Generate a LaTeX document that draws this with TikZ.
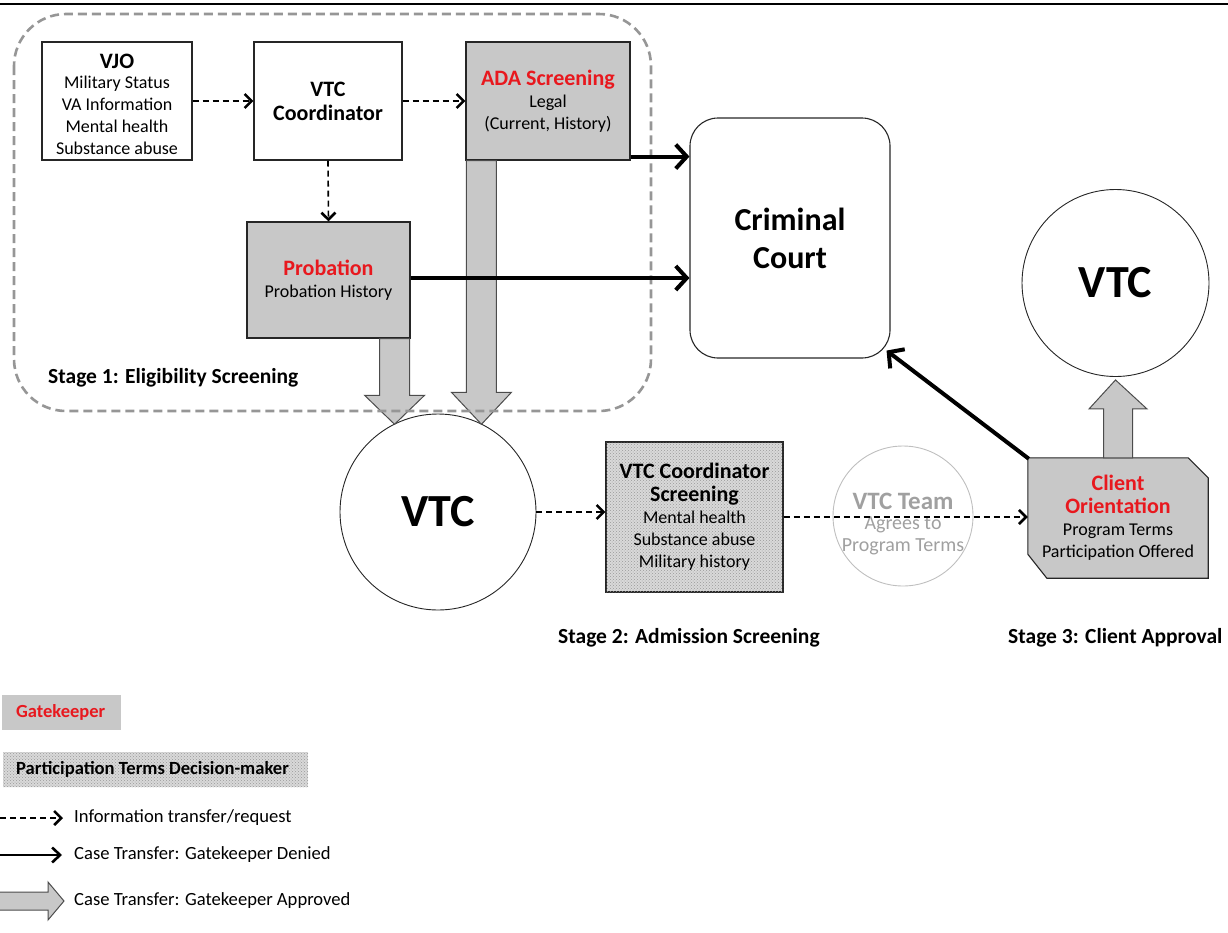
\documentclass[tikz,border=0pt]{standalone}
\usepackage{fontspec}
\setmainfont{Carlito}
\usetikzlibrary{arrows.meta,patterns,calc}
\definecolor{gkfill}{RGB}{200,200,200}
\definecolor{gkred}{RGB}{232,24,30}
\definecolor{zonegray}{RGB}{150,150,150}
\definecolor{teamgray}{RGB}{160,160,160}
\newcommand\bodyfont{\fontsize{18}{22}\selectfont}
\newcommand\headfont{\fontsize{22}{24}\selectfont\bfseries}
\newcommand\stagefont{\fontsize{21.5}{24}\selectfont\bfseries}
\newcommand\legendfont{\fontsize{18.6}{22}\selectfont}

\begin{document}
\begin{tikzpicture}[x=1pt,y=-1pt,
  box/.style={draw=black!85, line width=1.1pt, align=center, inner sep=0pt, font=\bodyfont},
  gate/.style={box, fill=gkfill},
  decider/.style={box, fill=gkfill!70, postaction={pattern=crosshatch dots, pattern color=black!40}},
  disc/.style={circle, draw=black!85, line width=0.9pt, align=center, inner sep=0pt},
  stagelabel/.style={anchor=west, inner sep=0pt, font=\stagefont},
  legendtext/.style={anchor=west, inner sep=0pt, font=\legendfont},
  info/.style={line width=1.6pt, dash pattern=on 6pt off 4pt,
    -{Straight Barb[length=7pt,width=14pt,line width=2.6pt]}},
  denied/.style={line width=4pt, -{Straight Barb[length=11pt,width=24pt]}},
  fat/.style={fill=gkfill, draw=black!70, line width=1pt, line join=miter}
]
\useasboundingbox (0,0) rectangle (1228,932);

% rule along the top edge
\draw[line width=1.6pt] (0,4) -- (1228,4);

% ---- Stage 1 boxes
\node[box, minimum width=150pt, minimum height=118pt] (vjo) at (117,101) {};
\node[align=center, inner sep=0pt, font=\bodyfont] (vjotext) at (117,104)
  {{\headfont VJO}\\[-2pt]Military Status\\VA Information\\Mental health\\Substance abuse};
\node[box, minimum width=148pt, minimum height=118pt, font=\headfont] (coord) at (328,101)
  {VTC\\Coordinator};
\node[gate, minimum width=164pt, minimum height=118pt] (ada) at (548,101)
  {{\headfont\color{gkred}ADA Screening}\\Legal\\(Current, History)};
\node[gate, minimum width=163pt, minimum height=116pt] (prob) at (328.5,280)
  {{\headfont\color{gkred}Probation}\\Probation History};

% ---- court and the two VTC circles
\node[box, rounded corners=28pt, minimum width=200pt, minimum height=240pt,
      font=\fontsize{32}{38}\selectfont\bfseries] (court) at (790,238) {Criminal\\Court};
\node[disc, minimum size=196pt, font=\fontsize{46}{50}\selectfont\bfseries] (vtcL) at (438,512) {VTC};
\node[disc, minimum size=187pt, font=\fontsize{46}{50}\selectfont\bfseries] (vtcR) at (1115.5,283) {VTC};

% ---- Stage 2 and Stage 3 boxes
\node[decider, minimum width=177pt, minimum height=150pt] (screen) at (694.5,517)
  {{\headfont VTC Coordinator}\\[1pt]{\headfont Screening}\\Mental health\\Substance abuse\\Military history};
\node[circle, draw=black!25, line width=0.9pt, minimum size=140pt, inner sep=0pt] (team) at (903,516) {};
\node[align=center, inner sep=0pt, text=teamgray, font=\fontsize{20}{22}\selectfont] (teamtext)
  at ($(team.center)+(0,8)$)
  {{\fontsize{25}{26}\selectfont\bfseries VTC Team}\\[-2pt]Agrees to\\Program Terms};
% client orientation: box with two cut corners
\node[minimum width=180pt, minimum height=120pt, inner sep=0pt] (client) at (1118,518) {};
\draw[fill=gkfill, draw=black!85, line width=1.1pt, line join=miter]
  (client.north west) -- ($(client.north east)+(-20,0)$) -- ($(client.north east)+(0,20)$)
  -- (client.south east) -- ($(client.south west)+(19,0)$) -- ($(client.south west)+(0,-24)$) -- cycle;
\node[align=center, inner sep=0pt, font=\bodyfont] (clienttext) at (client.center)
  {{\headfont\color{gkred}Client}\\[1pt]{\headfont\color{gkred}Orientation}\\Program Terms\\Participation Offered};

% ---- stage labels
\node[stagelabel] (st1) at (48,378) {Stage 1: Eligibility Screening};
\node[stagelabel] (st2) at (558,638) {Stage 2: Admission Screening};
\node[stagelabel] (st3) at (1008,638) {Stage 3: Client Approval};

% ---- approved transfers (wide grey arrows)
\coordinate (s1) at ($(prob.south east)+(-16,0)$);
\coordinate (t1) at (s1 |- vtcL.117);
\coordinate (s2) at ($(ada.south west)+(16,0)$);
\coordinate (t2) at (s2 |- vtcL.63);
\coordinate (s3) at (client.north);
\coordinate (t3) at ($(vtcR.south)+(0,3)$);
\draw[fat] let \p1=(s1), \p2=(t1) in
  (\x1-15pt,\y1) -- (\x1-15pt,\y2+29pt) -- (\x1-30pt,\y2+29pt) -- (\x2,\y2)
  -- (\x1+30pt,\y2+29pt) -- (\x1+15pt,\y2+29pt) -- (\x1+15pt,\y1) -- cycle;
\draw[fat] let \p1=(s2), \p2=(t2) in
  (\x1-15pt,\y1) -- (\x1-15pt,\y2+32pt) -- (\x1-30pt,\y2+32pt) -- (\x2,\y2)
  -- (\x1+30pt,\y2+32pt) -- (\x1+15pt,\y2+32pt) -- (\x1+15pt,\y1) -- cycle;
\draw[fat] let \p1=(s3), \p2=(t3) in
  (\x1-14.5pt,\y1) -- (\x1-14.5pt,\y2-29pt) -- (\x1-29pt,\y2-29pt) -- (\x2,\y2)
  -- (\x1+29pt,\y2-29pt) -- (\x1+14.5pt,\y2-29pt) -- (\x1+14.5pt,\y1) -- cycle;

% ---- Stage 1 zone
\draw[zonegray, line width=2.6pt, dash pattern=on 9pt off 5pt, rounded corners=52pt]
  (14,14) rectangle (651,411);

% ---- information transfers
\draw[info] (vjo.east) -- (coord.west);
\draw[info] (coord.east) -- (coord.east -| ada.west);
\draw[info] (coord.south) -- (prob.north);
\draw[info] (vtcL.east) -- (vtcL.east -| screen.west);
\draw[info] (screen.east) -- (screen.east -| client.west);

% ---- denied transfers
\coordinate (a1) at ($(ada.south east)+(0,-4)$);
\draw[denied] (a1) -- (a1 -| court.west);
\coordinate (a2) at ($(prob.east)+(0,-2)$);
\draw[denied] (a2) -- (a2 -| court.west);
\draw[denied] ($(client.north west)+(1,1)$) -- ($(court.south east)+(-4,-8)$);

% ---- legend
\node[fill=gkfill, minimum width=119pt, minimum height=35pt, inner sep=0pt] (lg1) at (61.5,712.5) {};
\node[anchor=west, inner sep=0pt, font=\fontsize{18.5}{20}\selectfont\bfseries, text=gkred] (lg1t) at (16,712.5) {Gatekeeper};
\node[fill=gkfill!70, postaction={pattern=crosshatch dots, pattern color=black!40},
      minimum width=305pt, minimum height=35pt, inner sep=0pt] (lg2) at (155.5,769.5) {};
\node[anchor=west, inner sep=0pt, font=\fontsize{18.6}{20}\selectfont\bfseries] (lg2t) at (16,769.5) {Participation Terms Decision-maker};

\node[legendtext] (lg3) at (74,818) {Information transfer/request};
\coordinate (lg3a) at (0,818);
\draw[info] (lg3a) -- ($(lg3.west)+(-11,0)$);
\node[legendtext] (lg4) at (74,855) {Case Transfer: Gatekeeper Denied};
\coordinate (lg4a) at (0,855);
\draw[line width=2pt, -{Straight Barb[length=8pt,width=15pt,line width=2.6pt]}] (lg4a) -- ($(lg4.west)+(-12,0)$);
\node[legendtext] (lg5) at (74,901) {Case Transfer: Gatekeeper Approved};
\draw[fat] (-2,892) -- (48,892) -- (48,882) -- (64,901) -- (48,920) -- (48,910) -- (-2,910) -- cycle;
\end{tikzpicture}
\end{document}
